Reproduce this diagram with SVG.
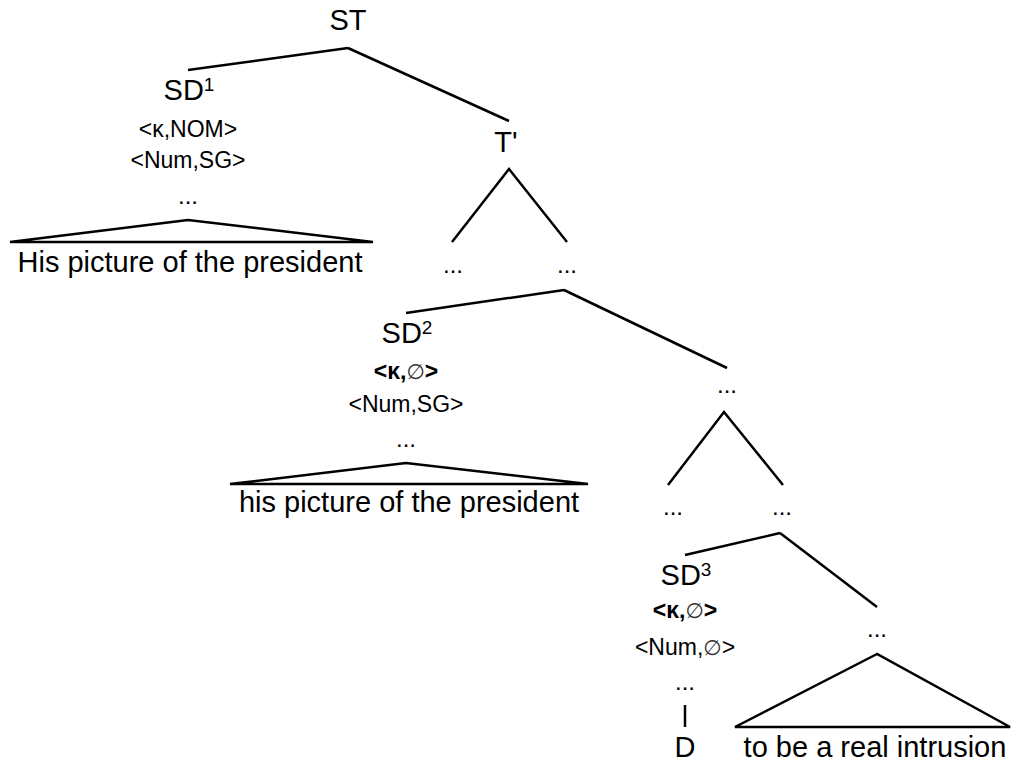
<svg xmlns="http://www.w3.org/2000/svg" width="1012" height="761" viewBox="0 0 1012 761">
<style>
text{font-family:"Liberation Sans","DejaVu Sans",Arial,sans-serif;fill:#000;text-anchor:middle}
.lb{font-size:29px}
.ft{font-size:23px}
.dt{font-size:24px}
.sup{font-size:19px}
.b{font-weight:bold}
.e{font-family:"DejaVu Sans",sans-serif;font-weight:normal;font-size:21px;fill:#333}
.edge line,.edge polyline,.edge polygon{stroke:#000;stroke-width:2.5;fill:none;stroke-linejoin:miter}
</style>
<rect width="1012" height="761" fill="#fff"/>
<g id="connectors" class="edge">
<line x1="348" y1="48" x2="188" y2="70"/>
<line x1="348" y1="48" x2="509" y2="121"/>
<polygon points="188,220 10,242 373,242"/>
<polyline points="452,242 509,169 567,242"/>
<line x1="564" y1="290" x2="406" y2="313"/>
<line x1="564" y1="290" x2="727" y2="368"/>
<polygon points="406,463 230,484 588,484"/>
<polyline points="668,485 724,412 783,485"/>
<line x1="780" y1="533" x2="685" y2="555"/>
<line x1="780" y1="533" x2="877" y2="607"/>
<line x1="685" y1="705" x2="685" y2="727"/>
<polygon points="877,654 735,727 1010,727"/>
</g>
<g id="ST"><text class="lb" x="348" y="30">ST</text></g>
<g id="SD1">
<text class="lb" x="189" y="100">SD<tspan class="sup" dy="-9">1</tspan></text>
<text class="ft" x="188" y="137">&lt;κ,NOM&gt;</text>
<text class="ft" x="188" y="168">&lt;Num,SG&gt;</text>
<text class="dt" x="188" y="204">...</text>
<text class="lb" x="190" y="272">His picture of the president</text>
</g>
<g id="Tbar"><text class="lb" x="506" y="152">T'</text></g>
<g id="dots1"><text class="dt" x="453" y="273">...</text></g>
<g id="dots2"><text class="dt" x="567" y="273">...</text></g>
<g id="SD2">
<text class="lb" x="407" y="343">SD<tspan class="sup" dy="-9">2</tspan></text>
<text class="ft b" x="406" y="379">&lt;κ,<tspan class="e">∅</tspan>&gt;</text>
<text class="ft" x="406" y="412">&lt;Num,SG&gt;</text>
<text class="dt" x="406" y="447">...</text>
<text class="lb" x="409" y="512">his picture of the president</text>
</g>
<g id="dots3"><text class="dt" x="727" y="393">...</text></g>
<g id="dots4"><text class="dt" x="673" y="515">...</text></g>
<g id="dots5"><text class="dt" x="782" y="515">...</text></g>
<g id="SD3">
<text class="lb" x="686" y="585">SD<tspan class="sup" dy="-9">3</tspan></text>
<text class="ft b" x="685" y="618">&lt;κ,<tspan class="e">∅</tspan>&gt;</text>
<text class="ft" x="685" y="655">&lt;Num,<tspan class="e">∅</tspan>&gt;</text>
<text class="dt" x="685" y="690">...</text>
<text class="lb" x="685" y="757">D</text>
</g>
<g id="dots6"><text class="dt" x="877" y="637">...</text></g>
<g id="pred"><text class="lb" x="875" y="757">to be a real intrusion</text></g>
</svg>
